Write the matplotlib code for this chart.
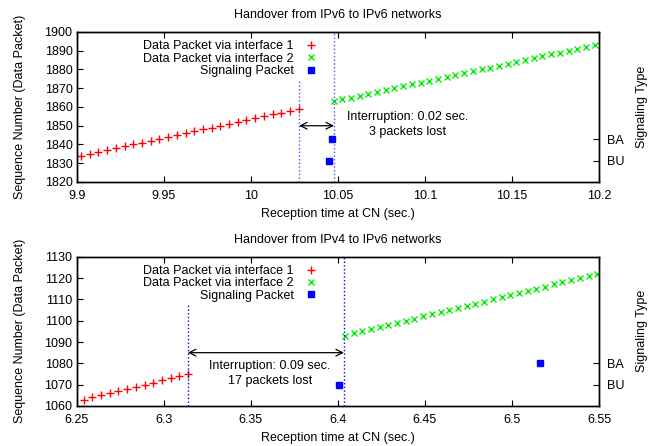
import matplotlib
matplotlib.use("Agg")
import matplotlib.pyplot as plt

plt.rcParams['font.family'] = ['Liberation Sans', 'DejaVu Sans']
plt.rcParams['font.size'] = 9

# --- top panel: IPv6 -> IPv6 ---
t6_if1 = [9.9025, 9.9075, 9.9125, 9.9175, 9.9225, 9.9275, 9.9325, 9.9375, 9.9425,
          9.9475, 9.9525, 9.9575, 9.9625, 9.9675, 9.9725, 9.9775, 9.9825, 9.9875,
          9.9925, 9.9975, 10.0025, 10.0075, 10.0125, 10.0175, 10.0225, 10.0275]
s6_if1 = [1834, 1835, 1836, 1837, 1838, 1839, 1840, 1841, 1842, 1843, 1844, 1845, 1846,
          1847, 1848, 1849, 1850, 1851, 1852, 1853, 1854, 1855, 1856, 1857, 1858, 1859]
t6_if2 = [10.0475, 10.0525, 10.0575, 10.0625, 10.0675, 10.0725, 10.0775, 10.0825,
          10.0875, 10.0925, 10.0975, 10.1025, 10.1075, 10.1125, 10.1175, 10.1225,
          10.1275, 10.1325, 10.1375, 10.1425, 10.1475, 10.1525, 10.1575, 10.1625,
          10.1675, 10.1725, 10.1775, 10.1825, 10.1875, 10.1925, 10.1975]
s6_if2 = [1863, 1864, 1865, 1866, 1867, 1868, 1869, 1870, 1871, 1872, 1873, 1874, 1875,
          1876, 1877, 1878, 1879, 1880, 1881, 1882, 1883, 1884, 1885, 1886, 1887, 1888,
          1889, 1890, 1891, 1892, 1893]
t6_sig = [10.0447, 10.0466]
k6_sig = [1, 2]            # 1 = BU, 2 = BA
t6_lines = [10.0277, 10.0478]

# --- bottom panel: IPv4 -> IPv6 ---
t4_if1 = [6.254, 6.259, 6.264, 6.269, 6.274, 6.279, 6.284, 6.289, 6.294, 6.299,
          6.304, 6.309, 6.314]
s4_if1 = [1063, 1064, 1065, 1066, 1067, 1068, 1069, 1070, 1071, 1072, 1073, 1074, 1075]
t4_if2 = [6.404, 6.409, 6.414, 6.419, 6.424, 6.429, 6.434, 6.439, 6.444, 6.449,
          6.454, 6.459, 6.464, 6.469, 6.474, 6.479, 6.484, 6.489, 6.494, 6.499,
          6.504, 6.509, 6.514, 6.519, 6.524, 6.529, 6.534, 6.539, 6.544, 6.549]
s4_if2 = [1093, 1094, 1095, 1096, 1097, 1098, 1099, 1100, 1101, 1102, 1103, 1104, 1105,
          1106, 1107, 1108, 1109, 1110, 1111, 1112, 1113, 1114, 1115, 1116, 1117, 1118,
          1119, 1120, 1121, 1122]
t4_sig = [6.4005, 6.516]
k4_sig = [1, 2]
t4_lines = [6.3138, 6.4035]

sig_ticks = [1, 2]
sig_labels = ['BU', 'BA']

fig = plt.figure(figsize=(6.49, 4.46), dpi=100)
ax1 = fig.add_axes([0.1182, 0.592, 0.8048, 0.3363])
ax2 = fig.add_axes([0.1182, 0.0897, 0.8048, 0.3347])


def panel(ax, title, t1, s1, t2, s2, ts, ks, xlim, ylim, xticks, yticks,
          lines, line_cols, line_tops, arrow_y, text_xy, text):
    ax.plot(t1, s1, '+', color='#ff0000', ms=5.2, mew=1.0, label='Data Packet via interface 1')
    ax.plot(t2, s2, 'x', color='#00ee00', ms=4.2, mew=1.0, label='Data Packet via interface 2')
    ax.plot([], [], 's', color='#0000ff', ms=4.3, label='Signaling Packet')
    ax.set_xlim(*xlim)
    ax.set_ylim(*ylim)
    ax.set_xticks(xticks)
    ax.set_xticklabels([('%g' % v) for v in xticks])
    ax.set_yticks(yticks)
    ax.tick_params(direction='in', length=4, width=0.8, top=True, right=False, pad=3)
    ax.tick_params(axis='x', pad=6)
    for sp in ax.spines.values():
        sp.set_linewidth(1.0)
    for x, c, top in zip(lines, line_cols, line_tops):
        ax.plot([x, x], [ylim[0], top], ls=':', color=c, lw=1.0)
    ax.annotate('', xy=(lines[1], arrow_y), xytext=(lines[0], arrow_y),
                arrowprops=dict(arrowstyle='<->', color='black', lw=0.9,
                                shrinkA=0, shrinkB=0, mutation_scale=12))
    ax.text(text_xy[0], text_xy[1], text, ha='center', va='center', linespacing=1.3)
    ax.set_title(title, fontsize=9, pad=10)
    ax.set_xlabel('Reception time at CN (sec.)', labelpad=4)
    ax.set_ylabel('Sequence Number (Data Packet)', labelpad=13)
    ax.legend(loc='upper right', bbox_to_anchor=(0.48, 1.01), frameon=False,
              markerfirst=False, handlelength=1.0, handletextpad=0.9,
              labelspacing=0.02, borderpad=0.3)

    axr = ax.twinx()
    axr.plot(ts, ks, 's', color='#0000ff', ms=4.3)
    axr.set_ylim(0, 7)
    axr.set_yticks(sig_ticks)
    axr.set_yticklabels(sig_labels)
    axr.tick_params(direction='in', length=4, width=0.8, pad=6)
    axr.set_ylabel('Signaling Type', labelpad=8)
    for sp in axr.spines.values():
        sp.set_linewidth(1.0)


panel(ax1, 'Handover from IPv6 to IPv6 networks', t6_if1, s6_if1, t6_if2, s6_if2,
      t6_sig, k6_sig, (9.9, 10.2), (1820, 1900),
      [9.9, 9.95, 10.0, 10.05, 10.1, 10.15, 10.2], list(range(1820, 1901, 10)),
      t6_lines, ['#5050ff', '#5050ff'], [1874.5, 1900], 1850, (10.09, 1850.6),
      'Interruption: 0.02 sec.\n3 packets lost')

panel(ax2, 'Handover from IPv4 to IPv6 networks', t4_if1, s4_if1, t4_if2, s4_if2,
      t4_sig, k4_sig, (6.25, 6.55), (1060, 1130),
      [6.25, 6.3, 6.35, 6.4, 6.45, 6.5, 6.55], list(range(1060, 1131, 10)),
      t4_lines, ['#0000ff', '#0000ff'], [1108.5, 1130], 1085, (6.361, 1075.2),
      'Interruption: 0.09 sec.\n17 packets lost')

fig.savefig('out.png', dpi=100)
